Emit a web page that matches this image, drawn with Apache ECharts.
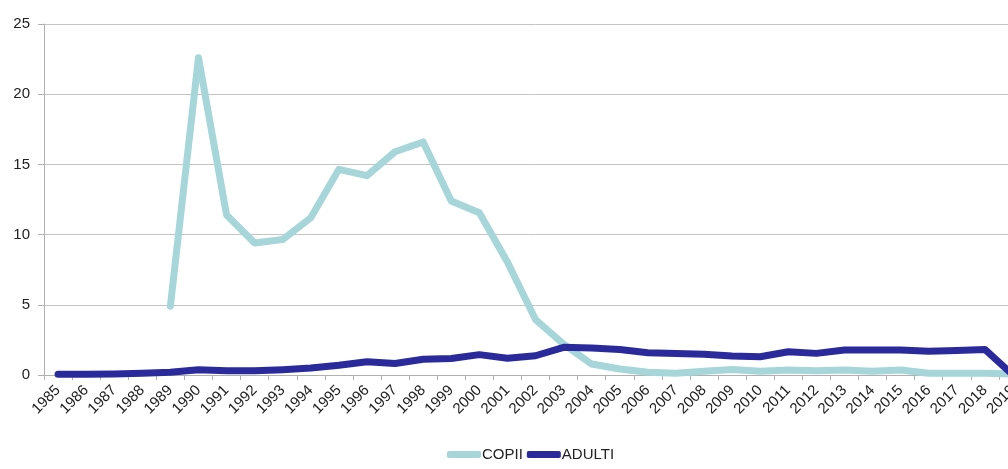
<!DOCTYPE html>
<html>
<head>
<meta charset="utf-8">
<script src="https://cdn.jsdelivr.net/npm/echarts@6/dist/echarts.min.js"></script>
<style>html,body{margin:0;padding:0;background:#fff;overflow:hidden;width:1008px;height:469px;}#c{width:1027px;height:469px;}</style>
</head>
<body>
<div id="c"></div>
<script>
const years = ['1985','1986','1987','1988','1989','1990','1991','1992','1993','1994','1995','1996','1997','1998','1999','2000','2001','2002','2003','2004','2005','2006','2007','2008','2009','2010','2011','2012','2013','2014','2015','2016','2017','2018','2019'];
const copii = [null,null,null,null,4.9,22.6,11.4,9.4,9.65,11.2,14.65,14.2,15.9,16.6,12.4,11.55,8.05,3.95,2.2,0.78,0.43,0.19,0.12,0.26,0.4,0.26,0.36,0.3,0.35,0.26,0.35,0.12,0.12,0.12,0.07];
const adulti = [0.05,0.05,0.07,0.12,0.2,0.38,0.3,0.3,0.38,0.5,0.7,0.95,0.82,1.12,1.18,1.45,1.2,1.37,1.97,1.92,1.82,1.59,1.54,1.47,1.35,1.3,1.66,1.54,1.78,1.78,1.78,1.7,1.75,1.82,0.0];
const yTicks = [0,5,10,15,20,25];

const chart = echarts.init(document.getElementById('c'));
chart.setOption({
  animation: false,
  grid: {left: 44, right: 0, top: 24, bottom: 94, containLabel: false},
  legend: {
    bottom: 2, left: 442, itemWidth: 34, itemHeight: 7, itemGap: 4,
    icon: 'roundRect',
    textStyle: {fontFamily: 'Liberation Sans, Arial', fontSize: 15, color: '#222', padding: [0, 0, 0, -4]},
    data: ['COPII','ADULTI']
  },
  xAxis: {
    type: 'category', data: years, boundaryGap: true,
    axisLine: {lineStyle: {color: '#b0b0b0'}},
    axisTick: {show: true, length: 5, lineStyle: {color: '#b0b0b0'}},
    axisLabel: {rotate: 45, fontFamily: 'Liberation Sans, Arial', fontSize: 15, color: '#222', margin: 13, interval: 0}
  },
  yAxis: {
    type: 'value', min: yTicks[0], max: yTicks[yTicks.length-1], interval: 5,
    axisLine: {show: true, lineStyle: {color: '#b0b0b0'}},
    axisTick: {show: true, length: 6, lineStyle: {color: '#b0b0b0'}},
    splitLine: {lineStyle: {color: '#c4c4c4'}},
    axisLabel: {fontFamily: 'Liberation Sans, Arial', fontSize: 15, color: '#222', margin: 14}
  },
  series: [
    {name: 'COPII', type: 'line', data: copii, showSymbol: false, symbol: 'none',
     lineStyle: {color: '#a6d6da', width: 7, cap: 'round', join: 'round'}, itemStyle: {color: '#a6d6da'}},
    {name: 'ADULTI', type: 'line', data: adulti, showSymbol: false, symbol: 'none',
     lineStyle: {color: '#2a2a9c', width: 7, cap: 'round', join: 'round'}, itemStyle: {color: '#2a2a9c'}}
  ]
});
</script>
</body>
</html>
